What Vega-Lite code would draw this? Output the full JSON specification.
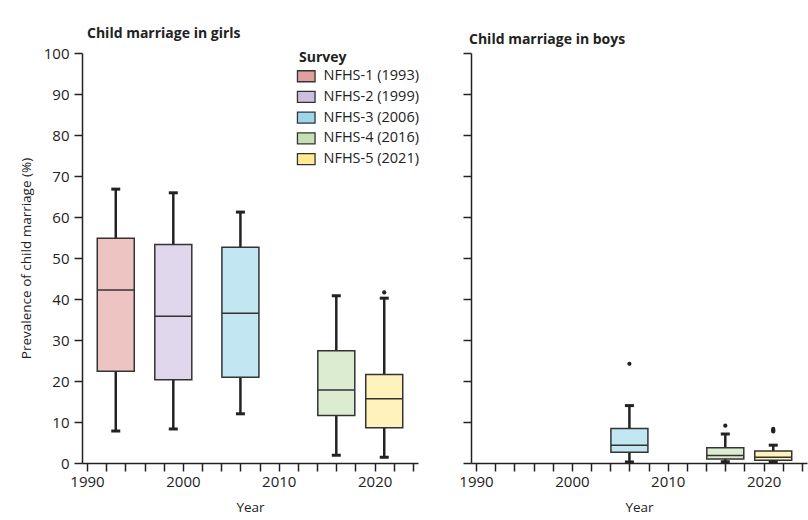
{
  "$schema": "https://vega.github.io/schema/vega-lite/v6.json",
  "background": "white",
  "padding": {"left": 19, "top": 27, "right": 5, "bottom": 5},
  "datasets": {
    "boxes": [
      {"sex": "girls", "survey": "NFHS-1 (1993)", "year": 1993, "lower": 7.8, "q1": 22.4, "median": 42.2, "q3": 54.8, "upper": 66.8},
      {"sex": "girls", "survey": "NFHS-2 (1999)", "year": 1999, "lower": 8.3, "q1": 20.3, "median": 35.8, "q3": 53.3, "upper": 65.9},
      {"sex": "girls", "survey": "NFHS-3 (2006)", "year": 2006, "lower": 12.0, "q1": 20.9, "median": 36.5, "q3": 52.6, "upper": 61.2},
      {"sex": "girls", "survey": "NFHS-4 (2016)", "year": 2016, "lower": 1.9, "q1": 11.6, "median": 17.8, "q3": 27.4, "upper": 40.8},
      {"sex": "girls", "survey": "NFHS-5 (2021)", "year": 2021, "lower": 1.4, "q1": 8.6, "median": 15.7, "q3": 21.6, "upper": 40.2},
      {"sex": "boys", "survey": "NFHS-3 (2006)", "year": 2006, "lower": 0.25, "q1": 2.6, "median": 4.35, "q3": 8.4, "upper": 14.0},
      {"sex": "boys", "survey": "NFHS-4 (2016)", "year": 2016, "lower": 0.3, "q1": 1.0, "median": 1.8, "q3": 3.7, "upper": 7.1},
      {"sex": "boys", "survey": "NFHS-5 (2021)", "year": 2021, "lower": 0.2, "q1": 0.65, "median": 1.4, "q3": 2.9, "upper": 4.35}
    ],
    "outliers": [
      {"sex": "girls", "survey": "NFHS-5 (2021)", "year": 2021, "value": 41.6},
      {"sex": "boys", "survey": "NFHS-3 (2006)", "year": 2006, "value": 24.2},
      {"sex": "boys", "survey": "NFHS-4 (2016)", "year": 2016, "value": 9.1},
      {"sex": "boys", "survey": "NFHS-5 (2021)", "year": 2021, "value": 8.3},
      {"sex": "boys", "survey": "NFHS-5 (2021)", "year": 2021, "value": 8.0},
      {"sex": "boys", "survey": "NFHS-5 (2021)", "year": 2021, "value": 7.7}
    ]
  },
  "spacing": 39,
  "resolve": {"scale": {"fill": "independent", "fillOpacity": "independent"}, "legend": {"fill": "independent"}},
  "hconcat": [
    {
      "width": 336,
      "height": 410,
      "title": {"text": "Child marriage in girls", "anchor": "start", "frame": "group", "dx": 5, "fontSize": 14, "fontWeight": "bold", "font": "Open Sans", "color": "#222", "offset": 5},
      "layer": [
        {
          "data": {"name": "boxes"},
          "transform": [{"filter": "datum.sex === 'girls'"}],
          "mark": {"type": "rule", "strokeWidth": 2.5, "color": "#222"},
          "encoding": {
            "x": {"field": "year", "type": "quantitative", "scale": {"domain": [1990, 2024], "nice": false, "zero": false},
                  "axis": {"title": "Year", "values": [1990,1992,1994,1996,1998,2000,2002,2004,2006,2008,2010,2012,2014,2016,2018,2020,2022,2024], "tickCount": 40, "format": "d", "labelExpr": "datum.value % 10 === 0 ? datum.label : ''", "labelOverlap": false, "labelPadding": 3, "titlePadding": 11}},
            "y": {"field": "lower", "type": "quantitative", "scale": {"domain": [0, 100], "nice": false},
                  "axis": {"title": "Prevalence of child marriage (%)", "values": [0,10,20,30,40,50,60,70,80,90,100], "tickCount": 20, "labelOverlap": false, "labelPadding": 5, "titlePadding": 10}},
            "y2": {"field": "q1"}
          }
        },
        {
          "data": {"name": "boxes"},
          "transform": [{"filter": "datum.sex === 'girls'"}],
          "mark": {"type": "rule", "strokeWidth": 2.5, "color": "#222"},
          "encoding": {
            "x": {"field": "year", "type": "quantitative"},
            "y": {"field": "q3", "type": "quantitative"},
            "y2": {"field": "upper"}
          }
        },
        {
          "data": {"name": "boxes"},
          "transform": [{"filter": "datum.sex === 'girls'"}],
          "mark": {"type": "bar", "width": 37, "stroke": "#333", "strokeWidth": 1.5, "orient": "vertical"},
          "encoding": {
            "x": {"field": "year", "type": "quantitative"},
            "y": {"field": "q1", "type": "quantitative"},
            "y2": {"field": "q3"},
            "fill": {"field": "survey", "type": "nominal",
                     "scale": {"domain": ["NFHS-1 (1993)", "NFHS-2 (1999)", "NFHS-3 (2006)", "NFHS-4 (2016)", "NFHS-5 (2021)"],
                               "range": ["#e2a09d", "#cdbfe0", "#9dd6ea", "#c6e0b4", "#ffeb92"]},
                     "legend": {"title": "Survey", "orient": "none", "legendX": 217, "legendY": -2, "padding": 0,
                                "titleFont": "Open Sans", "titleFontSize": 14, "titleFontWeight": "bold", "titleColor": "#222", "titlePadding": 4,
                                "labelFont": "Open Sans", "labelFontSize": 14.5, "labelColor": "#222", "labelOffset": 10,
                                "symbolType": "M-1.6,-1H1.6V1H-1.6Z", "symbolSize": 121, "symbolStrokeColor": "#333", "symbolStrokeWidth": 1.3,
                                "rowPadding": 3.7,
                                "encode": {"symbols": {"update": {"fillOpacity": {"value": 1}, "opacity": {"value": 1}, "stroke": {"value": "#333"}}}}}},
            "fillOpacity": {"field": "survey", "type": "ordinal",
                            "scale": {"domain": ["NFHS-1 (1993)", "NFHS-2 (1999)", "NFHS-3 (2006)", "NFHS-4 (2016)", "NFHS-5 (2021)"], "range": [0.62, 0.62, 0.6, 0.6, 1]},
                            "legend": null}
          }
        },
        {
          "data": {"name": "boxes"},
          "transform": [{"filter": "datum.sex === 'girls'"}],
          "mark": {"type": "tick", "orient": "horizontal", "size": 37, "thickness": 1.5, "color": "#333", "opacity": 1},
          "encoding": {
            "x": {"field": "year", "type": "quantitative"},
            "y": {"field": "median", "type": "quantitative"}
          }
        },
        {
          "data": {"name": "boxes"},
          "transform": [{"filter": "datum.sex === 'girls'"}],
          "mark": {"type": "tick", "orient": "horizontal", "size": 9, "thickness": 3, "color": "#222", "opacity": 1},
          "encoding": {
            "x": {"field": "year", "type": "quantitative"},
            "y": {"field": "lower", "type": "quantitative"}
          }
        },
        {
          "data": {"name": "boxes"},
          "transform": [{"filter": "datum.sex === 'girls'"}],
          "mark": {"type": "tick", "orient": "horizontal", "size": 9, "thickness": 3, "color": "#222", "opacity": 1},
          "encoding": {
            "x": {"field": "year", "type": "quantitative"},
            "y": {"field": "upper", "type": "quantitative"}
          }
        },
        {
          "data": {"name": "outliers"},
          "transform": [{"filter": "datum.sex === 'girls'"}],
          "mark": {"type": "point", "filled": true, "size": 18, "color": "#222", "opacity": 1},
          "encoding": {
            "x": {"field": "year", "type": "quantitative"},
            "y": {"field": "value", "type": "quantitative"}
          }
        }
      ]
    },
    {
      "width": 336,
      "height": 410,
      "title": {"text": "Child marriage in boys", "anchor": "start", "frame": "group", "dx": -2, "fontSize": 14, "fontWeight": "bold", "font": "Open Sans", "color": "#222", "offset": 5},
      "layer": [
        {
          "data": {"name": "boxes"},
          "transform": [{"filter": "datum.sex === 'boys'"}],
          "mark": {"type": "rule", "strokeWidth": 2.5, "color": "#222"},
          "encoding": {
            "x": {"field": "year", "type": "quantitative", "scale": {"domain": [1990, 2024], "nice": false, "zero": false},
                  "axis": {"title": "Year", "values": [1990,1992,1994,1996,1998,2000,2002,2004,2006,2008,2010,2012,2014,2016,2018,2020,2022,2024], "tickCount": 40, "format": "d", "labelExpr": "datum.value % 10 === 0 ? datum.label : ''", "labelOverlap": false, "labelPadding": 3, "titlePadding": 11}},
            "y": {"field": "lower", "type": "quantitative", "scale": {"domain": [0, 100], "nice": false},
                  "axis": {"title": null, "labels": false, "tickCount": 20, "values": [0,10,20,30,40,50,60,70,80,90,100]}},
            "y2": {"field": "q1"}
          }
        },
        {
          "data": {"name": "boxes"},
          "transform": [{"filter": "datum.sex === 'boys'"}],
          "mark": {"type": "rule", "strokeWidth": 2.5, "color": "#222"},
          "encoding": {
            "x": {"field": "year", "type": "quantitative"},
            "y": {"field": "q3", "type": "quantitative"},
            "y2": {"field": "upper"}
          }
        },
        {
          "data": {"name": "boxes"},
          "transform": [{"filter": "datum.sex === 'boys'"}],
          "mark": {"type": "bar", "width": 37, "stroke": "#333", "strokeWidth": 1.5, "orient": "vertical"},
          "encoding": {
            "x": {"field": "year", "type": "quantitative"},
            "y": {"field": "q1", "type": "quantitative"},
            "y2": {"field": "q3"},
            "fill": {"field": "survey", "type": "nominal",
                     "scale": {"domain": ["NFHS-1 (1993)", "NFHS-2 (1999)", "NFHS-3 (2006)", "NFHS-4 (2016)", "NFHS-5 (2021)"],
                               "range": ["#e2a09d", "#cdbfe0", "#9dd6ea", "#c6e0b4", "#ffeb92"]},
                     "legend": null},
            "fillOpacity": {"field": "survey", "type": "ordinal",
                            "scale": {"domain": ["NFHS-1 (1993)", "NFHS-2 (1999)", "NFHS-3 (2006)", "NFHS-4 (2016)", "NFHS-5 (2021)"], "range": [0.62, 0.62, 0.6, 0.6, 1]},
                            "legend": null}
          }
        },
        {
          "data": {"name": "boxes"},
          "transform": [{"filter": "datum.sex === 'boys'"}],
          "mark": {"type": "tick", "orient": "horizontal", "size": 37, "thickness": 1.5, "color": "#333", "opacity": 1},
          "encoding": {
            "x": {"field": "year", "type": "quantitative"},
            "y": {"field": "median", "type": "quantitative"}
          }
        },
        {
          "data": {"name": "boxes"},
          "transform": [{"filter": "datum.sex === 'boys'"}],
          "mark": {"type": "tick", "orient": "horizontal", "size": 9, "thickness": 3, "color": "#222", "opacity": 1},
          "encoding": {
            "x": {"field": "year", "type": "quantitative"},
            "y": {"field": "lower", "type": "quantitative"}
          }
        },
        {
          "data": {"name": "boxes"},
          "transform": [{"filter": "datum.sex === 'boys'"}],
          "mark": {"type": "tick", "orient": "horizontal", "size": 9, "thickness": 3, "color": "#222", "opacity": 1},
          "encoding": {
            "x": {"field": "year", "type": "quantitative"},
            "y": {"field": "upper", "type": "quantitative"}
          }
        },
        {
          "data": {"name": "outliers"},
          "transform": [{"filter": "datum.sex === 'boys'"}],
          "mark": {"type": "point", "filled": true, "size": 18, "color": "#222", "opacity": 1},
          "encoding": {
            "x": {"field": "year", "type": "quantitative"},
            "y": {"field": "value", "type": "quantitative"}
          }
        }
      ]
    }
  ],
  "config": {
    "view": {"stroke": null},
    "font": "Open Sans",
    "axis": {"domainColor": "#222", "domainWidth": 1.5, "tickColor": "#222", "tickWidth": 1.5, "tickSize": 8,
             "labelFont": "Open Sans", "labelFontSize": 15, "labelColor": "#222",
             "titleFont": "Open Sans", "titleFontSize": 13.5, "titleFontWeight": "normal", "titleColor": "#222", "grid": false}
  }
}
